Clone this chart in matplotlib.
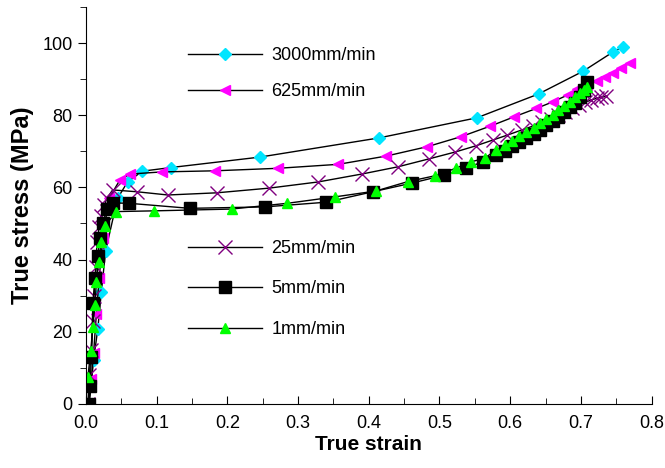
import matplotlib.pyplot as plt
from matplotlib.ticker import MultipleLocator

plt.rcParams['font.family'] = ['Liberation Sans', 'DejaVu Sans']

# 3000 mm/min
x3000 = [0.005, 0.011, 0.017, 0.022, 0.028, 0.045, 0.059, 0.08, 0.12, 0.246, 0.414, 0.553, 0.640, 0.703, 0.745, 0.759]
y3000 = [0.0, 12.2, 20.8, 31.0, 42.4, 57.0, 61.5, 64.5, 65.5, 68.4, 73.7, 79.3, 85.9, 92.2, 97.5, 98.9]

# 625 mm/min
x625 = [0.004, 0.008, 0.011, 0.015, 0.019, 0.024, 0.033, 0.048, 0.062, 0.108, 0.182, 0.272, 0.357,
        0.425, 0.483, 0.531, 0.572, 0.606, 0.637, 0.660, 0.681, 0.695, 0.709, 0.722, 0.734, 0.745, 0.757, 0.769]
y625 = [0.0, 7.0, 14.0, 25.0, 35.0, 46.0, 57.0, 62.0, 63.7, 64.3, 64.6, 65.3, 66.4,
        68.7, 71.3, 74.1, 77.0, 79.6, 81.9, 83.7, 85.6, 87.2, 88.5, 89.6, 90.6, 91.6, 93.0, 94.5]

# 25 mm/min
x25 = [0.003, 0.005, 0.008, 0.010, 0.012, 0.014, 0.016, 0.019, 0.022, 0.026, 0.030, 0.038, 0.072, 0.116, 0.185,
       0.259, 0.328, 0.390, 0.441, 0.485, 0.522, 0.551, 0.575, 0.596, 0.616, 0.632, 0.645, 0.657, 0.668,
       0.678, 0.688, 0.697, 0.706, 0.714, 0.722, 0.729, 0.735]
y25 = [0.0, 8.0, 15.0, 23.0, 30.0, 38.0, 45.0, 49.0, 52.0, 55.0, 57.0, 59.3, 58.8, 57.9, 58.5,
       59.8, 61.5, 63.7, 65.7, 67.9, 69.8, 71.5, 73.1, 74.5, 75.9, 77.0, 78.0, 79.0, 80.0,
       81.0, 82.0, 82.8, 83.6, 84.2, 84.7, 85.0, 85.2]

# 5 mm/min
x5 = [0.004, 0.006, 0.008, 0.010, 0.013, 0.017, 0.020, 0.024, 0.030, 0.038, 0.061, 0.147, 0.253, 0.340,
      0.406, 0.461, 0.507, 0.537, 0.561, 0.580, 0.592, 0.603, 0.613, 0.623, 0.633, 0.642, 0.651, 0.660,
      0.668, 0.676, 0.684, 0.691, 0.698, 0.704, 0.709]
y5 = [0.0, 5.0, 13.0, 28.0, 35.0, 41.0, 46.0, 50.0, 54.0, 55.7, 55.6, 54.2, 54.6, 55.9,
      58.8, 61.2, 63.4, 65.3, 67.1, 69.0, 70.2, 71.4, 72.5, 73.6, 74.8, 76.0, 77.2, 78.4,
      79.6, 80.9, 82.2, 83.5, 85.0, 87.0, 89.3]

# 1 mm/min
x1 = [0.003, 0.007, 0.010, 0.013, 0.015, 0.018, 0.022, 0.027, 0.043, 0.096, 0.206, 0.285, 0.353,
      0.410, 0.455, 0.493, 0.523, 0.545, 0.564, 0.580, 0.592, 0.603, 0.613, 0.623, 0.633, 0.642,
      0.651, 0.660, 0.668, 0.676, 0.684, 0.691, 0.698, 0.704, 0.709]
y1 = [7.5, 14.7, 21.4, 27.4, 33.8, 39.3, 45.0, 49.3, 53.3, 53.5, 54.0, 55.6, 57.4,
      59.0, 61.6, 63.2, 65.3, 67.1, 68.1, 70.4, 71.7, 73.0, 74.2, 75.4, 76.6, 77.8,
      79.0, 80.2, 81.4, 82.6, 83.8, 85.0, 86.1, 87.0, 87.9]

fig = plt.figure(figsize=(6.65, 4.68), dpi=100)
ax = fig.add_axes([0.129, 0.137, 0.851, 0.848])

h3000, = ax.plot(x3000, y3000, '-', color='black', lw=1, marker='D', ms=6,
                 mfc='#00e5ff', mec='#00e5ff', label='3000mm/min')
h625, = ax.plot(x625, y625, '-', color='black', lw=1, marker='<', ms=7.5,
                mfc='#ff00ff', mec='#ff00ff', label='625mm/min')
h25, = ax.plot(x25, y25, '-', color='black', lw=1, marker='x', ms=10, mew=1,
               mfc='#800080', mec='#800080', label='25mm/min')
h5, = ax.plot(x5, y5, '-', color='black', lw=1, marker='s', ms=8,
              mfc='black', mec='black', label='5mm/min')
h1, = ax.plot(x1, y1, '-', color='black', lw=1, marker='^', ms=7.5,
              mfc='#00ff00', mec='#00ff00', label='1mm/min')

ax.set_xlim(0, 0.8)
ax.set_ylim(0, 110)
ax.xaxis.set_major_locator(MultipleLocator(0.1))
ax.xaxis.set_minor_locator(MultipleLocator(0.05))
ax.yaxis.set_minor_locator(MultipleLocator(10))
ax.set_yticks([0, 20, 40, 60, 80, 100])
ax.tick_params(axis='x', which='both', direction='in', labelsize=13, pad=8)
ax.tick_params(axis='x', which='major', length=6)
ax.tick_params(axis='x', which='minor', length=4)
ax.tick_params(axis='y', which='both', direction='out', labelsize=13)
ax.tick_params(axis='y', which='major', length=6)
ax.tick_params(axis='y', which='minor', length=4)
for s in ['top', 'right']:
    ax.spines[s].set_visible(False)

ax.set_xlabel('True strain', fontsize=15, fontweight='bold', labelpad=2)
ax.set_ylabel('True stress (MPa)', fontsize=17, fontweight='bold', labelpad=6)

leg1 = ax.legend(handles=[h3000, h625], loc='upper left', bbox_to_anchor=(0.180, 0.899),
                 frameon=False, fontsize=13, handlelength=4.1, labelspacing=1.05,
                 handletextpad=0.55, borderpad=0, borderaxespad=0)
ax.add_artist(leg1)
ax.legend(handles=[h25, h5, h1], loc='upper left', bbox_to_anchor=(0.180, 0.413),
          frameon=False, fontsize=13, handlelength=4.1, labelspacing=1.3,
          handletextpad=0.55, borderpad=0, borderaxespad=0)

fig.savefig('out.png', dpi=100)
